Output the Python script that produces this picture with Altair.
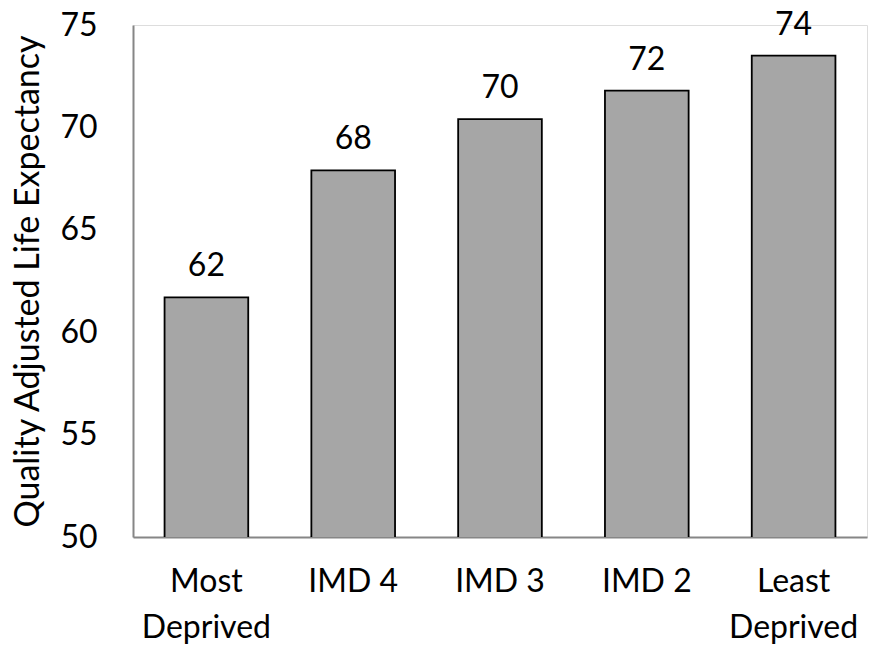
import altair as alt
import pandas as pd

# Quality adjusted life expectancy by deprivation quintile (IMD)
groups = ["Most\nDeprived", "IMD 4", "IMD 3", "IMD 2", "Least\nDeprived"]
qale = [61.7, 67.9, 70.4, 71.8, 73.5]

df = pd.DataFrame({"group": groups, "qale": qale})

FONT = "Lato"
SIZE = 32

x = alt.X(
    "group:N",
    sort=groups,
    title=None,
    scale=alt.Scale(paddingInner=0.43, paddingOuter=0.215),
    axis=alt.Axis(
        labelAngle=0,
        labelExpr="split(datum.label, '\\n')",
        labelFont=FONT,
        labelFontSize=SIZE,
        labelColor="black",
        labelLineHeight=46,
        labelPadding=29,
        labelBaseline="top",
        ticks=False,
        domainColor="#868686",
        domainWidth=2,
    ),
)

y = alt.Y(
    "qale:Q",
    title="Quality Adjusted Life Expectancy",
    scale=alt.Scale(domain=[50, 75], nice=False, zero=False),
    axis=alt.Axis(
        values=[50, 55, 60, 65, 70, 75],
        grid=False,
        ticks=False,
        labelFont=FONT,
        labelFontSize=SIZE,
        labelColor="black",
        labelPadding=36,
        domainColor="#868686",
        domainWidth=2,
        titleFont=FONT,
        titleFontSize=34,
        titleFontWeight="normal",
        titleColor="black",
        titlePadding=14,
    ),
)

bars = alt.Chart(df).mark_bar(
    color="#A6A6A6", stroke="black", strokeWidth=1.8, clip=True
).encode(x=x, y=y)

labels = alt.Chart(df).mark_text(
    font=FONT, fontSize=SIZE, color="black", baseline="alphabetic", dy=-21
).encode(x=alt.X("group:N", sort=groups), y="qale:Q", text=alt.Text("qale:Q", format=".0f"))

chart = (
    alt.layer(bars, labels)
    .properties(
        width=734,
        height=512,
        autosize=alt.AutoSizeParams(type="none"),
        padding={"left": 133, "top": 25, "right": 12, "bottom": 113},
    )
    .configure_view(stroke=None)
    .configure(background="white")
)

chart.save("out.html", embed_options={"renderer": "svg", "actions": False})
